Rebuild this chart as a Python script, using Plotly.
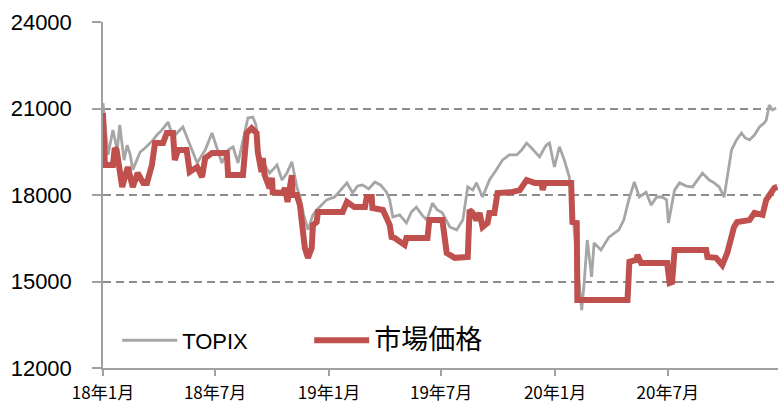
import plotly.graph_objects as go

# ---- data ----
topix_dates = [
    "2018-01-01", "2018-01-09", "2018-01-17", "2018-01-24", "2018-01-28", "2018-02-04", "2018-02-09",
    "2018-02-14", "2018-02-18", "2018-02-25", "2018-03-02", "2018-03-10", "2018-03-23", "2018-03-29",
    "2018-04-06", "2018-04-16", "2018-04-24", "2018-05-10", "2018-05-21", "2018-06-02", "2018-06-15",
    "2018-06-26", "2018-07-04", "2018-07-12", "2018-07-22", "2018-07-30", "2018-08-07", "2018-08-15",
    "2018-08-23", "2018-08-31", "2018-09-05", "2018-09-11", "2018-09-19", "2018-09-27", "2018-10-09",
    "2018-10-17", "2018-10-25", "2018-11-02", "2018-11-10", "2018-11-15", "2018-11-21", "2018-11-28",
    "2018-12-06", "2018-12-12", "2018-12-20", "2018-12-28", "2019-01-10", "2019-01-20", "2019-01-30",
    "2019-02-08", "2019-02-16", "2019-02-24", "2019-03-06", "2019-03-16", "2019-03-25", "2019-04-04",
    "2019-04-09", "2019-04-14", "2019-04-25", "2019-05-06", "2019-05-14", "2019-05-22", "2019-05-31",
    "2019-06-08", "2019-06-17", "2019-06-25", "2019-07-03", "2019-07-15", "2019-07-26", "2019-08-05",
    "2019-08-13", "2019-08-21", "2019-08-27", "2019-09-06", "2019-09-17", "2019-09-28", "2019-10-08",
    "2019-10-19", "2019-10-31", "2019-11-08", "2019-11-16", "2019-11-24", "2019-12-07", "2019-12-13",
    "2019-12-18", "2019-12-23", "2019-12-31", "2020-01-08", "2020-01-16", "2020-01-24", "2020-01-27",
    "2020-02-01", "2020-02-06", "2020-02-13", "2020-02-17", "2020-02-22", "2020-02-29", "2020-03-04",
    "2020-03-15", "2020-03-28", "2020-04-13", "2020-04-21", "2020-04-29", "2020-05-08", "2020-05-16",
    "2020-05-27", "2020-06-04", "2020-06-13", "2020-06-22", "2020-06-29", "2020-07-02", "2020-07-12",
    "2020-07-20", "2020-07-31", "2020-08-10", "2020-08-18", "2020-08-26", "2020-09-06", "2020-09-14",
    "2020-09-22", "2020-09-30", "2020-10-12", "2020-10-20", "2020-10-28", "2020-11-03", "2020-11-10",
    "2020-11-18", "2020-11-26", "2020-12-04", "2020-12-07", "2020-12-12", "2020-12-17", "2020-12-23",
]
topix_values = [
    21190, 19390, 20250, 19560, 20430, 19210, 19730,
    19390, 18870, 19210, 19490, 19630, 19910, 20080,
    20250, 20530, 20010, 20360, 19730, 19110, 19560,
    20150, 19630, 19110, 19560, 19670, 19110, 19910,
    20670, 20700, 20430, 19320, 19040, 18760, 19040,
    18520, 18760, 19150, 18280, 17930, 17310, 16790,
    17310, 17480, 17650, 17830, 17930, 18170, 18420,
    18070, 18310, 18350, 18210, 18450, 18350, 18100,
    17830, 17240, 17310, 17030, 17410, 17580, 17310,
    17130, 17720, 17480, 17380, 16890, 16790, 17130,
    18280, 18170, 18420, 17930, 18520, 18870, 19210,
    19390, 19390, 19560, 19800, 19630, 19320, 19560,
    19730, 19800, 18970, 19670, 19210, 18620, 17930,
    16890, 15500, 14010, 14950, 16440, 15160, 16340,
    16090, 16540, 16790, 17130, 17830, 18450, 17930,
    18100, 17650, 17930, 17930, 17830, 17030, 18170,
    18420, 18310, 18280, 18520, 18760, 18520, 18420,
    18280, 17930, 19560, 19910, 20150, 19980, 19910,
    20080, 20360, 20500, 20600, 21120, 20950, 21020,
]

market_dates = [
    "2018-01-01", "2018-01-04", "2018-01-17", "2018-01-20", "2018-01-23", "2018-02-01", "2018-02-10",
    "2018-02-18", "2018-02-26", "2018-03-07", "2018-03-13", "2018-03-21", "2018-03-26", "2018-04-08",
    "2018-04-14", "2018-04-24", "2018-04-27", "2018-05-02", "2018-05-16", "2018-05-21", "2018-06-02",
    "2018-06-10", "2018-06-15", "2018-06-26", "2018-07-20", "2018-07-22", "2018-08-15", "2018-08-21",
    "2018-08-29", "2018-09-06", "2018-09-08", "2018-09-14", "2018-09-16", "2018-09-19", "2018-09-27",
    "2018-10-01", "2018-10-02", "2018-10-13", "2018-10-18", "2018-10-22", "2018-10-26", "2018-11-02",
    "2018-11-03", "2018-11-10", "2018-11-15", "2018-11-23", "2018-11-28", "2018-12-04", "2018-12-06",
    "2018-12-12", "2018-12-14", "2019-01-23", "2019-01-30", "2019-02-11", "2019-02-28", "2019-03-03",
    "2019-03-11", "2019-03-12", "2019-03-29", "2019-04-04", "2019-04-09", "2019-04-12", "2019-04-17",
    "2019-05-03", "2019-05-06", "2019-06-09", "2019-06-12", "2019-07-03", "2019-07-10", "2019-07-23",
    "2019-08-03", "2019-08-13", "2019-08-16", "2019-08-21", "2019-08-27", "2019-09-01", "2019-09-06",
    "2019-09-14", "2019-09-17", "2019-09-25", "2019-09-30", "2019-10-23", "2019-11-05", "2019-11-16",
    "2019-11-29", "2019-12-10", "2019-12-12", "2019-12-15", "2020-01-27", "2020-01-29", "2020-02-05",
    "2020-02-06", "2020-04-27", "2020-04-30", "2020-05-11", "2020-05-13", "2020-05-19", "2020-06-30",
    "2020-07-04", "2020-07-08", "2020-07-12", "2020-09-01", "2020-09-03", "2020-09-17", "2020-09-27",
    "2020-10-05", "2020-10-16", "2020-10-21", "2020-11-10", "2020-11-18", "2020-12-01", "2020-12-07",
    "2020-12-20", "2020-12-25",
]
market_values = [
    20840, 19040, 19040, 19630, 19560, 18280, 18970,
    18280, 18760, 18420, 18420, 19040, 19800, 19800,
    20150, 20150, 19210, 19560, 19560, 18800, 18970,
    18620, 19280, 19460, 19460, 18690, 18690, 20150,
    20320, 20150, 19490, 18800, 19280, 18690, 18240,
    18590, 18100, 18070, 18070, 18240, 17760, 18690,
    18000, 18000, 17650, 16160, 15820, 16160, 16960,
    17060, 17410, 17410, 17760, 17580, 17580, 17930,
    17930, 17550, 17480, 17200, 16960, 16540, 16510,
    16270, 16510, 16510, 17130, 17130, 15990, 15820,
    15850, 15850, 17480, 17380, 17130, 17380, 16890,
    17030, 17380, 17380, 18070, 18100, 18170, 18520,
    18420, 18420, 18170, 18420, 18420, 17060, 17030,
    14360, 14360, 15680, 15750, 15920, 15640, 15640,
    14950, 14980, 16090, 16090, 15850, 15820, 15570,
    15990, 16890, 17060, 17130, 17380, 17310, 17830,
    18240, 18280,
]

tick_dates = ["2018-01-01", "2018-07-01", "2019-01-01", "2019-07-01", "2020-01-01", "2020-07-01"]
tick_labels = ["18年1月", "18年7月", "19年1月", "19年7月", "20年1月", "20年7月"]
y_ticks = [12000, 15000, 18000, 21000, 24000]

series_names = ["TOPIX", "市場価格"]

fig = go.Figure()
fig.add_trace(go.Scatter(
    x=topix_dates, y=topix_values, mode="lines", name=series_names[0],
    line=dict(color="#a6a6a6", width=2.8),
))
fig.add_trace(go.Scatter(
    x=market_dates, y=market_values, mode="lines",
    name='<span style="font-size:27px">' + series_names[1] + "</span>",
    line=dict(color="#c0504d", width=6),
))

fig.update_layout(
    width=778, height=403,
    margin=dict(l=103, r=0, t=22, b=35),
    paper_bgcolor="white", plot_bgcolor="white",
    showlegend=True,
    legend=dict(
        orientation="h", x=0.021, y=0.019, xanchor="left", yanchor="bottom",
        font=dict(family="Liberation Sans, Noto Sans CJK JP", size=22, color="black"),
        bgcolor="rgba(0,0,0,0)", itemwidth=55, entrywidth=122, entrywidthmode="pixels",
        traceorder="normal",
    ),
    font=dict(family="Liberation Sans, Noto Sans CJK JP", color="black"),
)
fig.update_xaxes(
    type="date", range=["2018-01-01", "2020-12-26"], automargin=False,
    tickvals=tick_dates, ticktext=tick_labels,
    tickfont=dict(family="Noto Sans CJK JP", size=17, color="black"),
    ticks="outside", ticklen=6, tickcolor="#a0a0a0", tickwidth=1.5,
    ticklabelstandoff=3,
    showline=True, linecolor="#a0a0a0", linewidth=1.5,
    showgrid=False, zeroline=False,
)
fig.update_yaxes(
    range=[12000, 24000], tickvals=y_ticks, tickformat="d", automargin=False,
    tickfont=dict(family="Liberation Sans", size=22, color="black"),
    ticks="outside", ticklen=9, tickcolor="#a0a0a0", tickwidth=1.5,
    ticklabelstandoff=16,
    showline=True, linecolor="#a0a0a0", linewidth=1.5,
    showgrid=True, gridcolor="#8c8c8c", gridwidth=1.5, griddash="8px,5px",
    zeroline=False,
)

fig.write_html(
    "out.html",
    config={"displayModeBar": False},
    post_script="document.body.style.margin='0px';document.body.style.padding='0px';",
)
